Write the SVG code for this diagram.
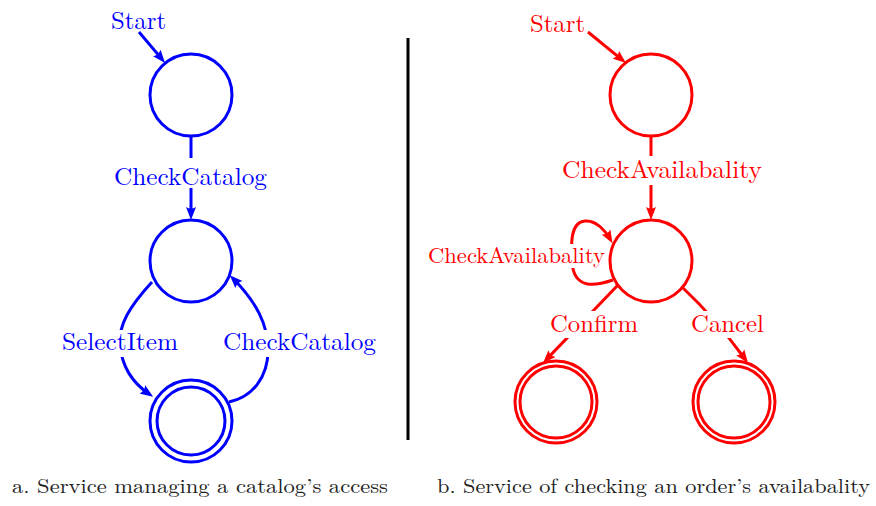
<svg xmlns="http://www.w3.org/2000/svg" width="876" height="506" viewBox="0 0 876 506">
<style>
.st{fill:#fff;stroke-width:3}
.b{stroke:#0000ff}
.r{stroke:#ff0000}
.e{fill:none;stroke-width:3}
text{font-family:'Latin Modern Roman','FreeSerif','DejaVu Serif','Liberation Serif',serif}
.lbl{font-size:25px}
.bt{fill:#0000ff}
.rt{fill:#ff0000}
.bg{fill:#fff}
.cap{font-size:20px;fill:#222}
</style>
<defs>
<marker id="ab" markerUnits="userSpaceOnUse" markerWidth="13" markerHeight="11" viewBox="0 0 13 11" refX="8" refY="5.5" orient="auto">
<path d="M0,0.5 L13,5.5 L0,10.5 Q3,5.5 0,0.5 z" fill="#0000ff"/>
</marker>
<marker id="ar" markerUnits="userSpaceOnUse" markerWidth="13" markerHeight="11" viewBox="0 0 13 11" refX="8" refY="5.5" orient="auto">
<path d="M0,0.5 L13,5.5 L0,10.5 Q3,5.5 0,0.5 z" fill="#ff0000"/>
</marker>
</defs>
<rect width="876" height="506" fill="#fff"/>

<g id="connectors">
<path class="e b" d="M139,32 L161.9,59.1" marker-end="url(#ab)"/>
<path class="e b" d="M191,136 L191,215" marker-end="url(#ab)"/>
<path class="e b" d="M152,282 C130,306 118,325 120,345 C122,368 133,383 149,394" marker-end="url(#ab)"/>
<path class="e b" d="M229,402 C252,397 268,378 268,350 C268,324 256,302 233.3,278.8" marker-end="url(#ab)"/>

<path class="e r" d="M588,32 L622.1,59.8" marker-end="url(#ar)"/>
<path class="e r" d="M651,136 L651,215" marker-end="url(#ar)"/>
<path class="e r" d="M613,280 C595,286 574,290 572,262 C571,245 570,222 585,221 C597,220 606,232 610,239" marker-end="url(#ar)"/>
<path class="e r" d="M618,285 L546.5,359.4" marker-end="url(#ar)"/>
<path class="e r" d="M683,288 Q715,318 745,359" marker-end="url(#ar)"/>

<rect class="bg" x="112" y="158" width="157" height="30"/>
<rect class="bg" x="60" y="330" width="120" height="27"/>
<rect class="bg" x="221" y="330" width="157" height="27"/>
<rect class="bg" x="560" y="156" width="204" height="29"/>
<rect class="bg" x="426" y="244" width="181" height="24"/>
<rect class="bg" x="548" y="311" width="92" height="27"/>
<rect class="bg" x="689" y="311" width="77" height="27"/>

<text class="lbl bt" x="111" y="29" textLength="55" lengthAdjust="spacingAndGlyphs">Start</text>
<text class="lbl bt" x="114" y="185" textLength="153" lengthAdjust="spacingAndGlyphs">CheckCatalog</text>
<text class="lbl bt" x="62" y="350" textLength="116" lengthAdjust="spacingAndGlyphs">SelectItem</text>
<text class="lbl bt" x="223" y="350" textLength="153" lengthAdjust="spacingAndGlyphs">CheckCatalog</text>

<text class="lbl rt" x="530" y="32" textLength="55" lengthAdjust="spacingAndGlyphs">Start</text>
<text class="lbl rt" x="562" y="178" textLength="200" lengthAdjust="spacingAndGlyphs">CheckAvailabality</text>
<text class="lbl rt" x="428" y="263" style="font-size:22px" textLength="177" lengthAdjust="spacingAndGlyphs">CheckAvailabality</text>
<text class="lbl rt" x="550" y="332" textLength="88" lengthAdjust="spacingAndGlyphs">Confirm</text>
<text class="lbl rt" x="691" y="332" textLength="73" lengthAdjust="spacingAndGlyphs">Cancel</text>
</g>

<g id="a-s0"><circle class="st b" cx="191" cy="95" r="41"/></g>
<g id="a-s1"><circle class="st b" cx="191" cy="261" r="41"/></g>
<g id="a-s2"><circle class="st b" cx="191" cy="421" r="41"/><circle class="st b" cx="191" cy="421" r="34"/></g>

<g id="b-s0"><circle class="st r" cx="651" cy="95" r="41"/></g>
<g id="b-s1"><circle class="st r" cx="651" cy="261" r="41"/></g>
<g id="b-s2"><circle class="st r" cx="556" cy="402" r="41"/><circle class="st r" cx="556" cy="402" r="36"/></g>
<g id="b-s3"><circle class="st r" cx="734" cy="402" r="41"/><circle class="st r" cx="734" cy="402" r="36"/></g>

<g id="separator"><line x1="408" y1="38" x2="408" y2="440" stroke="#000" stroke-width="3"/></g>

<g id="captions">
<text class="cap" x="12" y="493" textLength="376" lengthAdjust="spacingAndGlyphs">a. Service managing a catalog’s access</text>
<text class="cap" x="437" y="493" textLength="433" lengthAdjust="spacingAndGlyphs">b. Service of checking an order’s availabality</text>
</g>
</svg>
